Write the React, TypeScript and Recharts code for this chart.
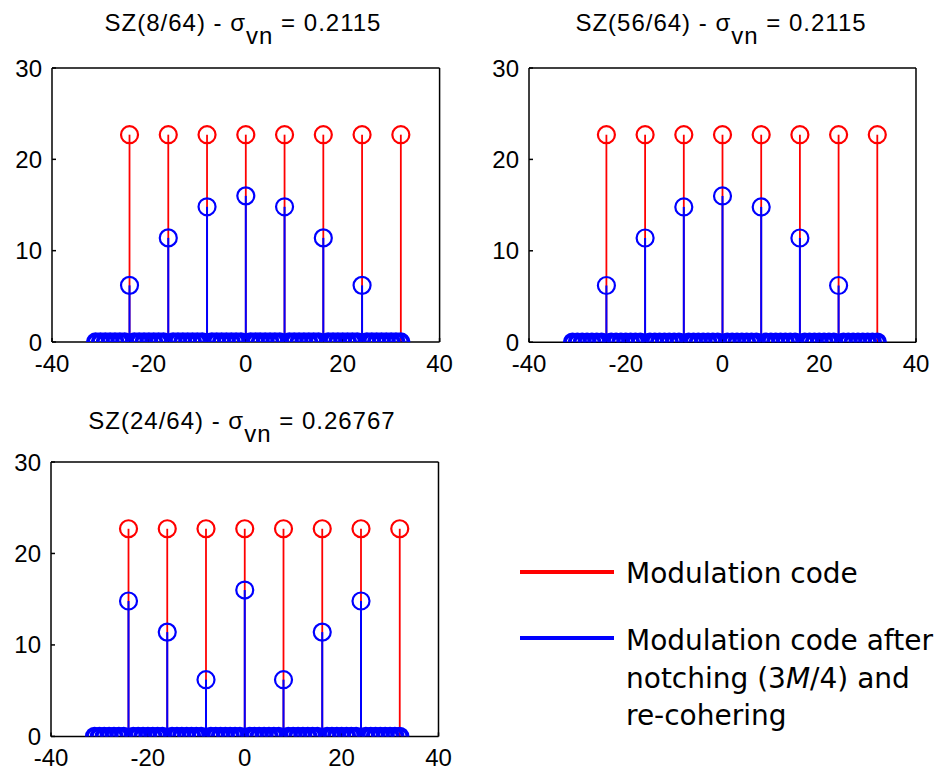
import React from "react";
import { ComposedChart, Scatter, XAxis, YAxis, ReferenceLine } from "recharts";

// ---- data ----
const sampleX = [
  -31, -30, -29, -28, -27, -26, -25, -24, -23, -22, -21, -20, -19, -18, -17, -16,
  -15, -14, -13, -12, -11, -10, -9, -8, -7, -6, -5, -4, -3, -2, -1, 0,
  1, 2, 3, 4, 5, 6, 7, 8, 9, 10, 11, 12, 13, 14, 15, 16,
  17, 18, 19, 20, 21, 22, 23, 24, 25, 26, 27, 28, 29, 30, 31, 32,
];
const stemX = [-24, -16, -8, 0, 8, 16, 24, 32];
const modulationCode = [22.7, 22.7, 22.7, 22.7, 22.7, 22.7, 22.7, 22.7];
const notchedA = [6.2, 11.4, 14.8, 16.0, 14.8, 11.4, 6.2, 0];
const notchedB = [6.2, 11.4, 14.8, 16.0, 14.8, 11.4, 6.2, 0];
const notchedC = [14.8, 11.4, 6.2, 16.0, 6.2, 11.4, 14.8, 0];
const xTicks = [-40, -20, 0, 20, 40];
const yTicks = [0, 10, 20, 30];
const titles = [
  { pre: "SZ(8/64) - σ", sub: "vn", post: " = 0.2115" },
  { pre: "SZ(56/64) - σ", sub: "vn", post: " = 0.2115" },
  { pre: "SZ(24/64) - σ", sub: "vn", post: " = 0.26767" },
];
const legendLabels = ["Modulation code", "Modulation code after", "notching (3", "M", "/4) and", "re-cohering"];

const RED = "#ff0000";
const BLUE = "#0000ff";
const TICK_FONT = "'Liberation Sans', Arial, sans-serif";

function buildRed() {
  return stemX.map((x, i) => ({ x, y: modulationCode[i] }));
}
function buildBlue(vals: number[]) {
  return sampleX.map((x) => {
    const k = stemX.indexOf(x);
    return { x, y: k >= 0 ? vals[k] : 0 };
  });
}

const ring = (color: string) => (p: any) => {
  const atZero = p.payload && p.payload.y === 0;
  return (
    <circle
      cx={p.cx}
      cy={p.cy}
      r={atZero ? 7.7 : 8.5}
      fill="none"
      stroke={color}
      strokeWidth={atZero ? 4 : 2.2}
    />
  );
};
const nothing = () => <g />;

type PanelProps = { left: number; top: number; w: number; h: number; blue: number[] };

function Panel({ left, top, w, h, blue }: PanelProps) {
  const mL = 12, yW = 40, mT = 29, tH = 1, mR = 29, rW = 1, xH = 30, mB = 10;
  const red = buildRed();
  const blueData = buildBlue(blue);
  const tickStyle = { fill: "#000", fontSize: 24, fontFamily: TICK_FONT };
  return (
    <div style={{ position: "absolute", left: left - mL - yW, top: top - mT - tH }}>
      <ComposedChart
        width={w + mL + yW + mR + rW}
        height={h + mT + tH + xH + mB}
        margin={{ top: mT, left: mL, right: mR, bottom: mB }}
      >
        <XAxis
          xAxisId="b"
          dataKey="x"
          type="number"
          domain={[-40, 40]}
          ticks={xTicks}
          allowDataOverflow
          height={xH}
          stroke="#000"
          strokeWidth={1.5}
          tickSize={-4}
          tickMargin={17}
          tick={tickStyle}
        />
        <XAxis
          xAxisId="t"
          dataKey="x"
          orientation="top"
          type="number"
          domain={[-40, 40]}
          ticks={xTicks}
          allowDataOverflow
          height={tH}
          stroke="#000"
          strokeWidth={1.5}
          tickSize={-4}
          tick={false}
        />
        <YAxis
          yAxisId="l"
          dataKey="y"
          type="number"
          domain={[0, 30]}
          ticks={yTicks}
          allowDataOverflow
          width={yW}
          stroke="#000"
          strokeWidth={1.5}
          tickSize={-4}
          tickMargin={14}
          tick={tickStyle}
        />
        <YAxis
          yAxisId="r"
          dataKey="y"
          orientation="right"
          type="number"
          domain={[0, 30]}
          ticks={yTicks}
          allowDataOverflow
          width={rW}
          stroke="#000"
          strokeWidth={1.5}
          tickSize={-4}
          tick={false}
        />
        <Scatter
          xAxisId="t"
          yAxisId="r"
          data={red}
          shape={nothing}
          isAnimationActive={false}
        />
        {red.map((d) => (
          <ReferenceLine
            key={"r" + d.x}
            xAxisId="b"
            yAxisId="l"
            segment={[{ x: d.x, y: 0 }, { x: d.x, y: d.y }]}
            stroke={RED}
            strokeWidth={1.8}
            ifOverflow="visible"
          />
        ))}
        <Scatter
          xAxisId="b"
          yAxisId="l"
          data={red}
          shape={ring(RED)}
          isAnimationActive={false}
        />
        {blueData
          .filter((d) => d.y !== 0)
          .map((d) => (
            <ReferenceLine
              key={"b" + d.x}
              xAxisId="b"
              yAxisId="l"
              segment={[{ x: d.x, y: 0 }, { x: d.x, y: d.y }]}
              stroke={BLUE}
              strokeWidth={2}
              ifOverflow="visible"
            />
          ))}
        <Scatter
          xAxisId="b"
          yAxisId="l"
          data={blueData}
          shape={ring(BLUE)}
          isAnimationActive={false}
        />
      </ComposedChart>
    </div>
  );
}

function Title({ cx, y, t }: { cx: number; y: number; t: { pre: string; sub: string; post: string } }) {
  return (
    <text x={cx} y={y} textAnchor="middle" fontFamily={TICK_FONT} fontSize={24} letterSpacing={1} fill="#000">
      {t.pre}
      <tspan dy={13}>{t.sub}</tspan>
      <tspan dy={-13}>{t.post}</tspan>
    </text>
  );
}

export default function App() {
  return (
    <div style={{ position: "absolute", left: 0, top: 0, width: 940, height: 774, background: "#fff", overflow: "hidden" }}>
      <svg width={940} height={774} style={{ position: "absolute", left: 0, top: 0 }}>
        <Title cx={243} y={31} t={titles[0]} />
        <Title cx={721} y={31} t={titles[1]} />
        <Title cx={242} y={429} t={titles[2]} />
        <line x1={520} x2={614} y1={572} y2={572} stroke={RED} strokeWidth={4} />
        <line x1={520} x2={614} y1={638} y2={638} stroke={BLUE} strokeWidth={4} />
        <g fontFamily="'DejaVu Sans', Verdana, sans-serif" fontSize={28} fill="#000">
          <text x={626} y={583}>{legendLabels[0]}</text>
          <text x={626} y={650}>{legendLabels[1]}</text>
          <text x={626} y={688}>
            {legendLabels[2]}
            <tspan fontStyle="italic">{legendLabels[3]}</tspan>
            {legendLabels[4]}
          </text>
          <text x={626} y={725}>{legendLabels[5]}</text>
        </g>
      </svg>
      <Panel left={51.7} top={68} w={387.6} h={274} blue={notchedA} />
      <Panel left={529} top={67.5} w={387} h={274.2} blue={notchedB} />
      <Panel left={50.5} top={462.3} w={387.5} h={274.4} blue={notchedC} />
    </div>
  );
}
